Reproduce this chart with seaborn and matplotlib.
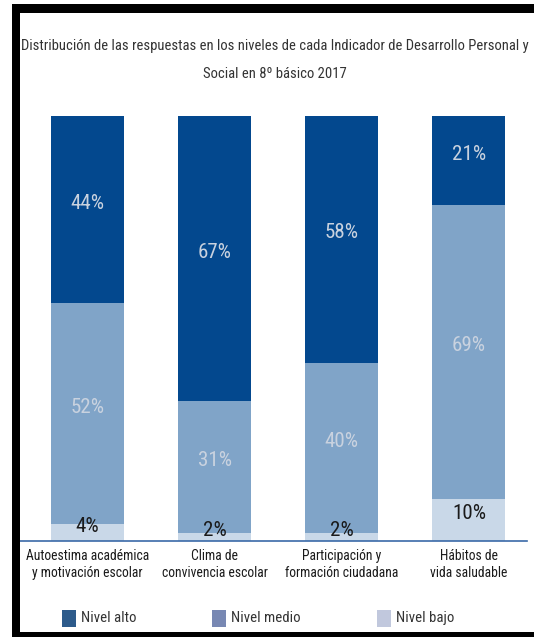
import matplotlib
matplotlib.use("Agg")
import matplotlib.pyplot as plt
from matplotlib.patches import Rectangle
import seaborn as sns
import pandas as pd
from matplotlib import font_manager

# Data: share of students in each level per indicator
indicators = [
    "Autoestima académica\ny motivación escolar",
    "Clima de\nconvivencia escolar",
    "Participación y\nformación ciudadana",
    "Hábitos de\nvida saludable",
]
nivel_alto = [44, 67, 58, 21]
nivel_medio = [52, 31, 40, 69]
nivel_bajo = [4, 2, 2, 10]
level_names = ["Nivel alto", "Nivel medio", "Nivel bajo"]

title_lines = [
    "Distribución de las respuestas en los niveles de cada Indicador de Desarrollo Personal y",
    "Social en 8º básico 2017",
]

sns.set_theme(style="white")

available = {f.name for f in font_manager.fontManager.ttflist}
narrow = "Liberation Sans"
for cand in ["Liberation Sans Narrow", "Roboto Condensed", "DejaVu Sans Condensed",
             "Open Sans Condensed"]:
    if cand in available:
        narrow = cand
        break
plt.rcParams["font.family"] = [narrow, "DejaVu Sans"]

c_alto = "#03488E"
c_medio = "#80A4C8"
c_bajo = "#C9D8E8"

W, H = 534, 637
fig = plt.figure(figsize=(W / 100, H / 100), dpi=100)
fig.patch.set_facecolor("white")
renderer = fig.canvas.get_renderer()


def fit_size(text_obj, target_px):
    """Scale a text's font size so its rendered width is target_px."""
    w = text_obj.get_window_extent(renderer=renderer).width
    text_obj.set_fontsize(text_obj.get_fontsize() * target_px / w)
    return text_obj.get_fontsize()


ax = fig.add_axes([20 / W, 1 - 541 / H, (527 - 20) / W, 425 / H])

df = pd.DataFrame({
    "indicador": indicators,
    "alto": nivel_alto,
    "medio": nivel_medio,
    "bajo": nivel_bajo,
})
df["top_alto"] = df["alto"] + df["medio"] + df["bajo"]
df["top_medio"] = df["medio"] + df["bajo"]
df["top_bajo"] = df["bajo"]

bw = 0.575
for col, color in [("top_alto", c_alto), ("top_medio", c_medio), ("top_bajo", c_bajo)]:
    sns.barplot(data=df, x="indicador", y=col, color=color, width=bw,
                saturation=1, ax=ax, edgecolor="none", linewidth=0)

# Size for value labels: "44%" about 33 px wide
probe = fig.text(0, 0, "44%", fontsize=12)
val_fs = fit_size(probe, 34)
probe.remove()

light_txt = "#C9D2DF"
for i in range(len(indicators)):
    b = nivel_bajo[i]
    m = nivel_medio[i]
    a = nivel_alto[i]
    ax.text(i, b + m + a / 2 + 1.5, f"{a}%", ha="center", va="center",
            color=light_txt, fontsize=val_fs)
    ax.text(i, b + m / 2 + 1.5, f"{m}%", ha="center", va="center",
            color=light_txt, fontsize=val_fs)
    ax.text(i, b / 2 + 1.5, f"{b}%", ha="center",
            va="center", color="#1A1A1A", fontsize=val_fs)

ax.set_xlim(-0.53, 3.457)
ax.set_ylim(0, 100)
ax.set_xlabel("")
ax.set_ylabel("")
ax.set_yticks([])
for s in ["top", "right", "left"]:
    ax.spines[s].set_visible(False)
ax.spines["bottom"].set_color("#3B6AA8")
ax.spines["bottom"].set_linewidth(1.2)

# Tick label size: "Autoestima académica" about 122 px wide
probe = fig.text(0, 0, "Autoestima académica", fontsize=10)
tick_fs = fit_size(probe, 122)
probe.remove()
ax.tick_params(axis="x", length=0, pad=6, labelsize=tick_fs, labelcolor="#1A1A1A")
ax.set_facecolor("none")

# Title
t1 = fig.text(275 / W, 1 - 46 / H, title_lines[0], ha="center", va="center",
              fontsize=10, color="#333333")
title_fs = fit_size(t1, 502)
fig.text(275 / W, 1 - 74 / H, title_lines[1], ha="center", va="center",
         fontsize=title_fs, color="#333333")

# Legend
probe = fig.text(0, 0, "Nivel alto", fontsize=10)
leg_fs = fit_size(probe, 55)
probe.remove()
leg_colors = ["#2D5B8B", "#7888B3", "#C1C8DD"]
leg_x = [62, 212, 377]
for x0, col, name in zip(leg_x, leg_colors, level_names):
    fig.patches.append(Rectangle((x0 / W, 1 - 627 / H), 14 / W, 17 / H,
                                 transform=fig.transFigure, facecolor=col,
                                 edgecolor="none"))
    fig.text((x0 + 19) / W, 1 - 618 / H, name, ha="left", va="center",
             fontsize=leg_fs, color="#333333")

# Frame
frame = [
    (12, 4, 8, 633),     # left
    (12, 4, 522, 9),     # top
    (12, 632, 522, 5),   # bottom
]
for x0, y0, w, h in frame:
    fig.patches.append(Rectangle((x0 / W, 1 - (y0 + h) / H), w / W, h / H,
                                 transform=fig.transFigure, facecolor="black",
                                 edgecolor="none"))

fig.savefig("out.png", dpi=100)
